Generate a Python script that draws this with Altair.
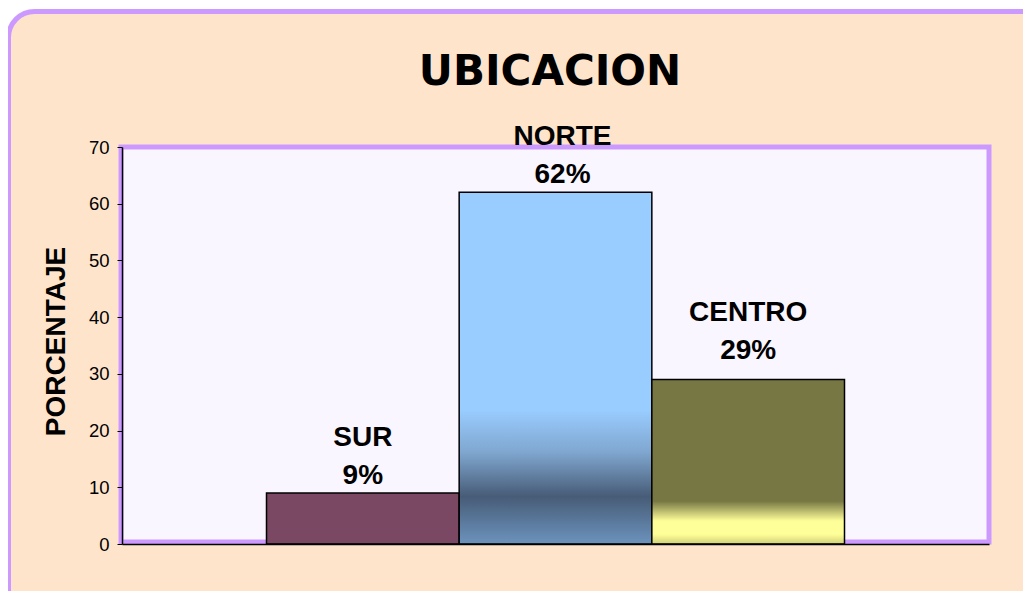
import altair as alt
import pandas as pd

categories = ["SUR", "NORTE", "CENTRO"]
values = [9, 62, 29]
pct_labels = ["9%", "62%", "29%"]
y_ticks = [0, 10, 20, 30, 40, 50, 60, 70]

df = pd.DataFrame({"cat": categories, "val": values, "pct": pct_labels})
one = pd.DataFrame({"k": [0]})

W, H = 867, 397
PEACH = "#FFE4CC"
PURPLE = "#CC99FF"
PLOT_BG = "#FAF6FF"

x_enc = alt.X("cat:N", sort=categories,
              scale=alt.Scale(paddingInner=0, paddingOuter=0.75),
              axis=alt.Axis(labels=False, ticks=False, title=None, domainColor="black",
                            domainWidth=1.5, zindex=1))
y_enc = alt.Y("val:Q", scale=alt.Scale(domain=[0, 70], nice=False),
              axis=alt.Axis(values=y_ticks, title="PORCENTAJE", grid=False,
                            domainColor="black", domainWidth=1.5, tickColor="black",
                            tickSize=5, tickWidth=1, labelFontSize=18.5,
                            labelFont="Liberation Sans", labelColor="black", labelPadding=8,
                            titleFont="Liberation Sans", titleFontSize=28, titleFontWeight="bold",
                            titleColor="black", titleX=-58, titleY=194, titleAngle=-90,
                            titleBaseline="alphabetic", titleAlign="center", zindex=1))

frame = alt.Chart(one).mark_rect(fill=PEACH, stroke=PURPLE, strokeWidth=5, cornerRadius=26).encode(
    x=alt.value(-113.5), x2=alt.value(W + 120), y=alt.value(-135.5), y2=alt.value(H + 120))

plot_bg = alt.Chart(one).mark_rect(fill=PLOT_BG, stroke=PURPLE, strokeWidth=5).encode(
    x=alt.value(-1), x2=alt.value(W), y=alt.value(0), y2=alt.value(H - 2))

title = alt.Chart(one).mark_text(text="UBICACION", font="DejaVu Sans", fontWeight="bold",
                                 fontSize=42, color="black", align="center",
                                 baseline="alphabetic").encode(
    x=alt.value(428), y=alt.value(-62))

grad = {
    "SUR": "#7A4862",
    "NORTE": alt.LinearGradient(gradient="linear", x1=0, x2=0, y1=0, y2=1, stops=[
        alt.GradientStop(offset=0, color="#99CCFF"),
        alt.GradientStop(offset=0.62, color="#99CCFF"),
        alt.GradientStop(offset=0.74, color="#7FA6CF"),
        alt.GradientStop(offset=0.865, color="#475C77"),
        alt.GradientStop(offset=1, color="#6C93BD")]),
    "CENTRO": alt.LinearGradient(gradient="linear", x1=0, x2=0, y1=0, y2=1, stops=[
        alt.GradientStop(offset=0, color="#777744"),
        alt.GradientStop(offset=0.74, color="#777744"),
        alt.GradientStop(offset=0.86, color="#FFFF99"),
        alt.GradientStop(offset=0.94, color="#FFFF99"),
        alt.GradientStop(offset=1, color="#D0D078")]),
}
label_off = {"SUR": (0, -47, -9), "NORTE": (7, -47, -9), "CENTRO": (0, -59, -21)}

layers = [frame, plot_bg]
for c in categories:
    layers.append(alt.Chart(df).transform_filter(alt.datum.cat == c).mark_bar(
        color=grad[c], stroke="black", strokeWidth=1.5).encode(x=x_enc, y=y_enc))
for c in categories:
    dx, dy1, dy2 = label_off[c]
    base = alt.Chart(df).transform_filter(alt.datum.cat == c)
    layers.append(base.mark_text(font="Liberation Sans", fontWeight="bold", fontSize=28,
                                 color="black", baseline="alphabetic", dx=dx, dy=dy1).encode(
        x=x_enc, y=y_enc, text="cat:N"))
    layers.append(base.mark_text(font="Liberation Sans", fontWeight="bold", fontSize=28,
                                 color="black", baseline="alphabetic", dx=dx, dy=dy2).encode(
        x=x_enc, y=y_enc, text="pct:N"))
layers.append(title)

chart = alt.layer(*layers).properties(
    width=W, height=H,
    autosize=alt.AutoSizeParams(type="none"),
    padding={"left": 114, "top": 139, "right": 34, "bottom": 47},
    background="white",
).configure_view(stroke=None, fill=None)

chart.save("out.html", embed_options={"renderer": "svg", "actions": False})
